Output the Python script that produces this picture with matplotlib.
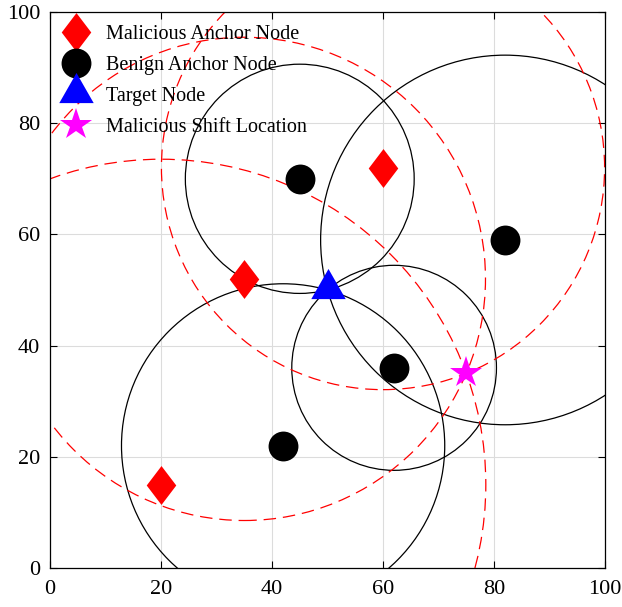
import numpy as np
import matplotlib
matplotlib.use('Agg')
import matplotlib.pyplot as plt
from matplotlib.patches import Circle

plt.rcParams['font.family'] = 'serif'
plt.rcParams['font.serif'] = ['Liberation Serif', 'DejaVu Serif']
plt.rcParams['mathtext.fontset'] = 'stix'

# node positions
malicious_x = [20, 35, 60]
malicious_y = [15, 52, 72]
benign_x = [42, 45, 62, 82]
benign_y = [22, 70, 36, 59]
target = (50, 50)
shift = (75, 35)

diamond = [(0, 1), (0.76, 0), (0, -1), (-0.76, 0), (0, 1)]
triangle = [(0, 1), (-0.8, -0.4), (0.8, -0.4), (0, 1)]

fig = plt.figure(figsize=(6.22, 6.07), dpi=100)
ax = fig.add_axes([0.0804, 0.0643, 0.8923, 0.9159])

ax.plot(malicious_x, malicious_y, linestyle='none', marker=diamond, markersize=28,
        color='red', markeredgewidth=0, label='Malicious Anchor Node')
ax.plot(benign_x, benign_y, linestyle='none', marker='o', markersize=21.5,
        color='black', markeredgewidth=0, label='Benign Anchor Node')
ax.plot([target[0]], [target[1]], linestyle='none', marker=triangle, markersize=31,
        color='blue', markeredgewidth=0, label='Target Node')
ax.plot([shift[0]], [shift[1]], linestyle='none', marker='*', markersize=24,
        color='magenta', markeredgewidth=0, label='Malicious Shift Location')

# benign anchors: circle through the real target
for bx, by in zip(benign_x, benign_y):
    r = np.hypot(bx - target[0], by - target[1])
    ax.add_patch(Circle((bx, by), r, fill=False, edgecolor='black', linewidth=0.9))

# malicious anchors: circle through the shifted location
for mx, my in zip(malicious_x, malicious_y):
    r = np.hypot(mx - shift[0], my - shift[1])
    ax.add_patch(Circle((mx, my), r, fill=False, edgecolor='red', linewidth=0.9,
                        linestyle=(0, (10, 5.5))))

ax.set_xlim(0, 100)
ax.set_ylim(0, 100)
ax.set_xticks(range(0, 101, 20))
ax.set_yticks(range(0, 101, 20))
ax.grid(True, color='#dcdcdc', linewidth=0.8)
ax.set_axisbelow(True)
ax.tick_params(direction='in', top=True, right=True, labelsize=16, length=5, width=0.8)
ax.tick_params(axis='x', pad=9)
ax.tick_params(axis='y', pad=7)
for s in ax.spines.values():
    s.set_linewidth(0.9)

ax.legend(loc='upper left', bbox_to_anchor=(-0.004, 0.997), frameon=False, fontsize=14.5,
          borderaxespad=0.1, handletextpad=0.65, labelspacing=0.6, borderpad=0.45,
          handlelength=1.7)

fig.savefig('out.png', dpi=100)
